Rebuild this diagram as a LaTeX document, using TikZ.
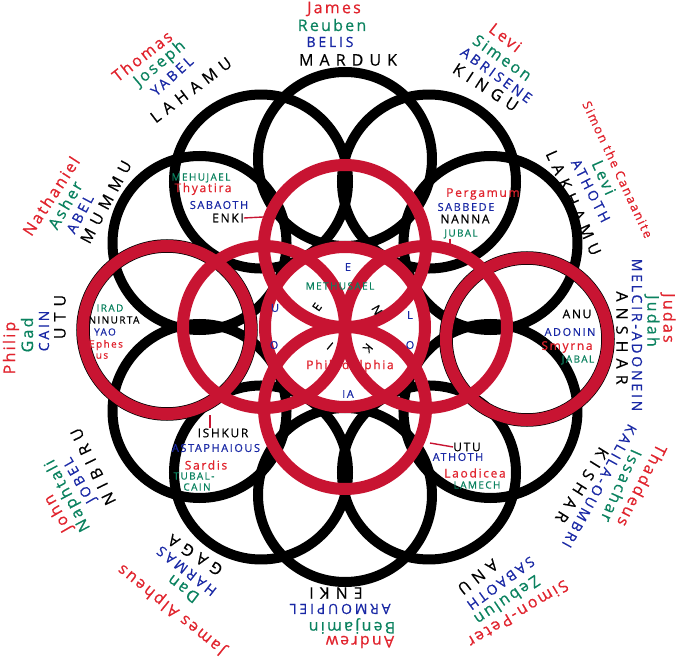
\documentclass[tikz,border=0pt]{standalone}
\usepackage{fontspec}
\setmainfont{Open Sans}
\newfontfamily\wideff[LetterSpace=38,FakeBold=0.5]{Open Sans}
\newfontfamily\capff[LetterSpace=20,FakeBold=0.6]{Open Sans}
\newfontfamily\midff[LetterSpace=14,FakeBold=0.6]{Open Sans}
\definecolor{ringred}{RGB}{200,20,50}
\definecolor{inkred}{RGB}{225,35,45}
\definecolor{inkgreen}{RGB}{10,130,95}
\definecolor{inkblue}{RGB}{25,40,165}

\begin{document}
\begin{tikzpicture}[
            x=1pt, y=1pt,
            every node/.style={inner sep=0pt},
            ring/.style={draw=black, line width=10pt},
            rring/.style={draw=ringred, line width=12pt},
            tick/.style={draw=ringred, line width=1.4pt},
            bk/.style={font=\fontsize{16}{16}\wideff},
            bl/.style={text=inkblue, font=\fontsize{14}{14}\capff},
            gr/.style={text=inkgreen, font=\fontsize{16}{16}\midff},
            rd/.style={text=inkred, font=\fontsize{16}{16}\midff},
            ibk/.style={font=\fontsize{12}{12}\midff},
            ibl/.style={text=inkblue, font=\fontsize{11}{11}\midff},
            igr/.style={text=inkgreen, font=\fontsize{10}{10}\midff},
            ird/.style={text=inkred, font=\fontsize{12}{12}\midff},
            sm/.style={font=\fontsize{10}{10}\midff},
        ]
            \fill[white] (-345,-331) rectangle (345,327);
            \useasboundingbox (-345,-331) rectangle (345,327);

            \draw[ring] (90:168) circle (87);
            \draw[ring] (60:168) circle (87);
            \draw[ring] (30:168) circle (87);
            \draw[ring] (-30:168) circle (87);
            \draw[ring] (-60:168) circle (87);
            \draw[ring] (-90:168) circle (87);
            \draw[ring] (-120:168) circle (87);
            \draw[ring] (-150:168) circle (87);
            \draw[ring] (150:168) circle (87);
            \draw[ring] (120:168) circle (87);
            \draw[ring, line width=13.5pt] (-178,-3) circle (84);
            \draw[ring, line width=13.5pt] (182,-12) circle (81);

            \node[ird] (phil) at (5,-39) {Philadelphia};

            \draw[rring] (0,0) circle (80);
            \draw[rring] (0,81) circle (81);
            \draw[rring] (0,-81) circle (81);
            \draw[rring] (81,0) circle (81);
            \draw[rring] (-81,0) circle (81);
            \draw[rring] (-178,-3) circle (84);
            \draw[rring] (182,-12) circle (81);

            \node[bk] (mard) at (3,267) {MARDUK};
            \node[bl] (beli) at (-15,285) {BELIS};
            \node[gr] (reub) at (-13,302) {Reuben};
            \node[rd] (jams) at (-11,318) {James};

            \node[bk, rotate=-33] (king) at (59.6:278) {KINGU};
            \node[bl, rotate=-36] (abri) at (59:294) {ABRISENE};
            \node[gr, rotate=-35] (sime) at (59.7:312) {Simeon};
            \node[rd, rotate=-38] (levr) at (61:331) {Levi};

            \node[bk, rotate=-66] (lakh) at (28.5:260) {LAKHAMU};
            \node[bl, rotate=-63] (ath1) at (29:281) {ATHOTH};
            \node[gr, rotate=-66] (levg) at (30:299) {Levi};
            \node[rd, rotate=-65, font=\fontsize{12.5}{12.5}\midff] (simc) at (30:315) {Simon the Canaanite};

            \node[bk, rotate=-90] (ansh) at (277,-11) {ANSHAR};
            \node[bl, rotate=-90] (melc) at (292,-8) {MELCIR-ADONEIN};
            \node[gr, rotate=-90] (jdah) at (307,6) {Judah};
            \node[rd, rotate=-90] (jdas) at (323,9) {Judas};

            \node[bk, rotate=-122] (kish) at (-33.7:285) {KISHAR};
            \node[bl, rotate=-119] (kali) at (-32:300) {KALILA-OUMBRI};
            \node[gr, rotate=-114] (issa) at (-29.9:319) {Issachar};
            \node[rd, rotate=-117] (thad) at (-28.1:337) {Thaddeus};

            \node[bk, rotate=-142] (anu1) at (-62:283) {ANU};
            \node[bl, rotate=-144] (saba) at (-58.7:300) {SABAOTH};
            \node[gr, rotate=-146] (zebu) at (-59.3:318) {Zebulun};
            \node[rd, rotate=-149] (simp) at (-58.9:335) {Simon-Peter};

            \node[bk, rotate=180] (enk1) at (-9,-266) {ENKI};
            \node[bl, rotate=180] (armo) at (-5,-282) {ARMOUPIEL};
            \node[gr, rotate=180] (benj) at (7,-299) {Benjamin};
            \node[rd, rotate=180] (andr) at (15,-315) {Andrew};

            \node[bk, rotate=147] (gaga) at (-123.3:273) {GAGA};
            \node[bl, rotate=142] (harm) at (-123:291) {HARMAS};
            \node[gr, rotate=143] (dan) at (-121.7:308) {Dan};
            \node[rd, rotate=141] (jaal) at (-121.5:331) {James Alpheus};

            \node[bk, rotate=116] (nibi) at (-151:288) {NIBIRU};
            \node[bl, rotate=120] (jobe) at (-150:306) {JOBEL};
            \node[gr, rotate=118] (naph) at (-148.7:324) {Naphtali};
            \node[rd, rotate=120] (john) at (-147:342) {John};

            \node[bk, rotate=90] (utu1) at (-285,10) {UTU};
            \node[bl, rotate=90] (cain) at (-301,-4) {CAIN};
            \node[gr, rotate=90] (gad) at (-318,-8) {Gad};
            \node[rd, rotate=90] (phlp) at (-334,-21) {Philip};

            \node[bk, rotate=62] (mumm) at (-239,125) {MUMMU};
            \node[bl, rotate=62] (abel) at (-265,113) {ABEL};
            \node[gr, rotate=60] (ashe) at (-280,122) {Asher};
            \node[rd, rotate=57] (nath) at (-294,131) {Nathaniel};

            \node[bk, rotate=37] (laha) at (-154,237) {LAHAMU};
            \node[bl, rotate=42] (yabe) at (-173,251) {YABEL};
            \node[gr, rotate=40] (jose) at (-185,263) {Joseph};
            \node[rd, rotate=38] (thom) at (-203,271) {Thomas};

            \node[igr] (mehu) at (-144,149) {MEHUJAEL};
            \node[ird] (thya) at (-142,138) {Thyatira};
            \node[ibl] (sab1) at (-126,122) {SABAOTH};
            \node[ibk] (enk2) at (-117,109) {ENKI};
            \coordinate (tk1) at (-82,110);
            \draw[tick] (enk2.east) -- (tk1);

            \node[ird] (perg) at (138,133) {Pergamum};
            \node[ibl] (sabb) at (121,120) {SABBEDE};
            \node[ibk] (nann) at (120,108) {NANNA};
            \node[igr] (juba) at (116,93) {JUBAL};
            \coordinate (tk2) at (105,74);
            \draw[tick] (juba.south -| tk2) -- (tk2);

            \node[ibk] (anu2) at (232,13) {ANU};
            \node[ibl] (adon) at (225,-5) {ADONIN};
            \node[ird] (smyr) at (222,-20) {Smyrna};
            \node[igr] (jaba) at (233,-33) {JABAL};

            \node[ibk] (utu2) at (122,-120) {UTU};
            \node[ibl] (ath2) at (113,-130) {ATHOTH};
            \node[ird] (laod) at (130,-146) {Laodicea};
            \node[igr] (lame) at (132,-158) {LAMECH};
            \coordinate (tk3) at (85,-116);
            \draw[tick] (utu2.west) -- (tk3);

            \node[ibk] (ishk) at (-122,-106) {ISHKUR};
            \node[ibl] (asta) at (-129,-121) {ASTAPHAIOUS};
            \node[ird] (sard) at (-139,-138) {Sardis};
            \node[igr] (tuba) at (-151,-149) {TUBAL-};
            \node[igr] (cai2) at (-148,-160) {CAIN};
            \coordinate (tk4) at (-135,-88);
            \draw[tick] (ishk.north -| tk4) -- (tk4);

            \node[igr] (irad) at (-235,19) {IRAD};
            \node[ibk, sm] (ninu) at (-231,7) {NINURTA};
            \node[ibl, sm] (yao) at (-240,-5) {YAO};
            \node[ird, sm] (ephe) at (-239,-18) {Ephes};
            \node[ird, sm] (ephu) at (-243,-29) {us};

            \node[igr] (meth) at (-5,41) {METHUSAEL};
            \node[ibl] (let1) at (3,60) {E};
            \node[ibl] (let2) at (65,12) {L};
            \node[ibl] (let3) at (65,-18) {O};
            \node[ibl] (let4) at (3,-67) {IA};
            \node[ibl] (let5) at (-71,-18) {O};
            \node[ibl] (let6) at (-70,19) {U};
            \node[ibk, rotate=55] (ltE) at (-28,20) {E};
            \node[ibk, rotate=-60] (ltN) at (32,17) {N};
            \node[ibk, rotate=-130] (ltK) at (23,-21) {K};
            \node[ibk, rotate=140] (ltI) at (-15,-19) {I};
        \end{tikzpicture}
\end{document}
